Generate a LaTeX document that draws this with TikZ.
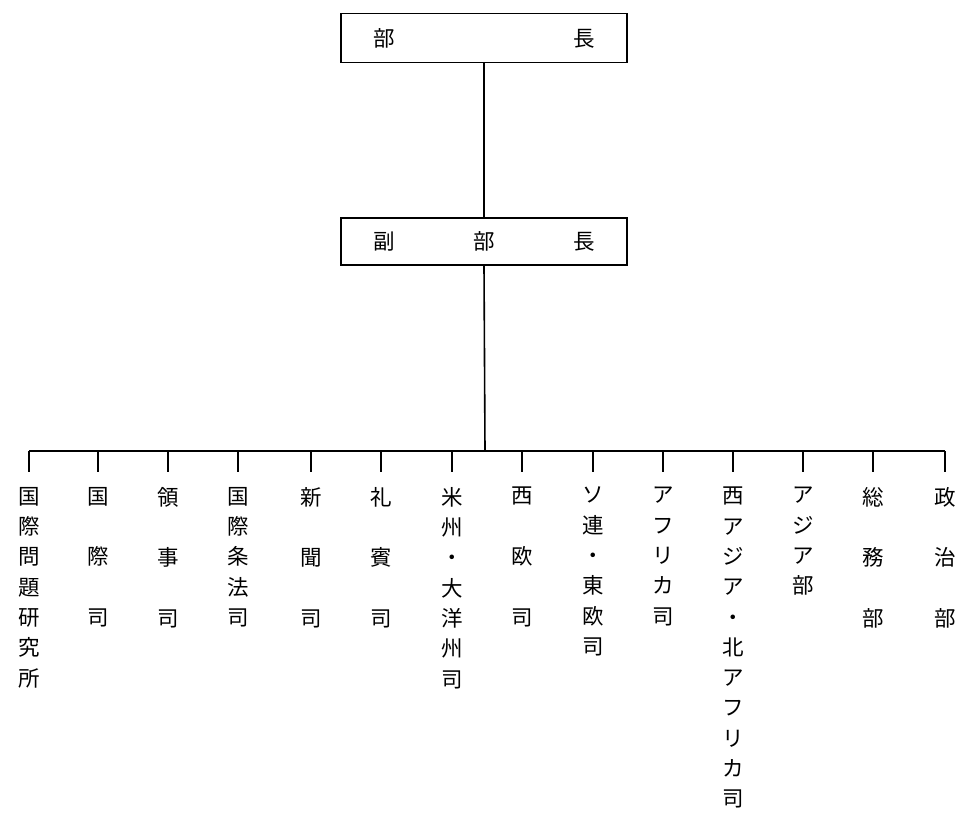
\documentclass[tikz,border=0pt]{standalone}
\usepackage{fontspec}
\newfontfamily\cjk{Noto Sans CJK JP}
\usetikzlibrary{positioning}

\begin{document}
\begin{tikzpicture}[x=1pt,y=-1pt,
  head/.style={rectangle,draw=black,line width=1.4pt,inner sep=0pt,minimum width=286pt,minimum height=49pt,font=\cjk\fontsize{21.5}{24}\selectfont},
  leaf/.style={anchor=north,inner sep=0pt,align=center,font=\cjk\fontsize{21.5}{30.3}\selectfont},
  link/.style={draw=black,line width=1.6pt},
  tick/.style={draw=black,line width=2.2pt}
]
\useasboundingbox[fill=white] (0,0) rectangle (964,812);
% heads
\node[head] (bucho) at (484,38) {\makebox[222pt]{部\hfill 長}};
\node[head,minimum height=47pt] (fukubucho) at (484,241.5) {\makebox[222pt]{副\hfill 部\hfill 長}};
% bureaus
\node[leaf] (l1) at (29,487) {国\\際\\問\\題\\研\\究\\所};
\node[leaf] (l2) at (98,487) {国\\[30.3pt]際\\[30.3pt]司};
\node[leaf] (l3) at (168,487) {領\\[30.3pt]事\\[30.3pt]司};
\node[leaf] (l4) at (238,487) {国\\際\\条\\法\\司};
\node[leaf] (l5) at (311,487) {新\\[30.3pt]聞\\[30.3pt]司};
\node[leaf] (l6) at (381,487) {礼\\[30.3pt]賓\\[30.3pt]司};
\node[leaf] (l7) at (452,487) {米\\州\\・\\大\\洋\\州\\司};
\node[leaf] (l8) at (522,487) {西\\[30.3pt]欧\\[30.3pt]司};
\node[leaf] (l9) at (593,487) {ソ\\連\\・\\東\\欧\\司};
\node[leaf] (l10) at (663,487) {ア\\フ\\リ\\カ\\司};
\node[leaf] (l11) at (733,487) {西\\ア\\ジ\\ア\\・\\北\\ア\\フ\\リ\\カ\\司};
\node[leaf] (l12) at (803,487) {ア\\ジ\\ア\\部};
\node[leaf] (l13) at (873,487) {総\\[30.3pt]務\\[30.3pt]部};
\node[leaf] (l14) at (945,487) {政\\[30.3pt]治\\[30.3pt]部};
% bus
\coordinate (bus) at (485,451);
\coordinate (busL) at (l1.north |- bus);
\coordinate (busR) at (l14.north |- bus);
\draw[link] (bucho.south) -- (fukubucho.north);
\draw[link] (fukubucho.south) -- (bus);
\draw[link] (busL) -- (busR);
\foreach \i in {1,...,14}
  \draw[tick] (l\i.north |- bus) -- ([yshift=15pt]l\i.north);
\end{tikzpicture}
\end{document}
